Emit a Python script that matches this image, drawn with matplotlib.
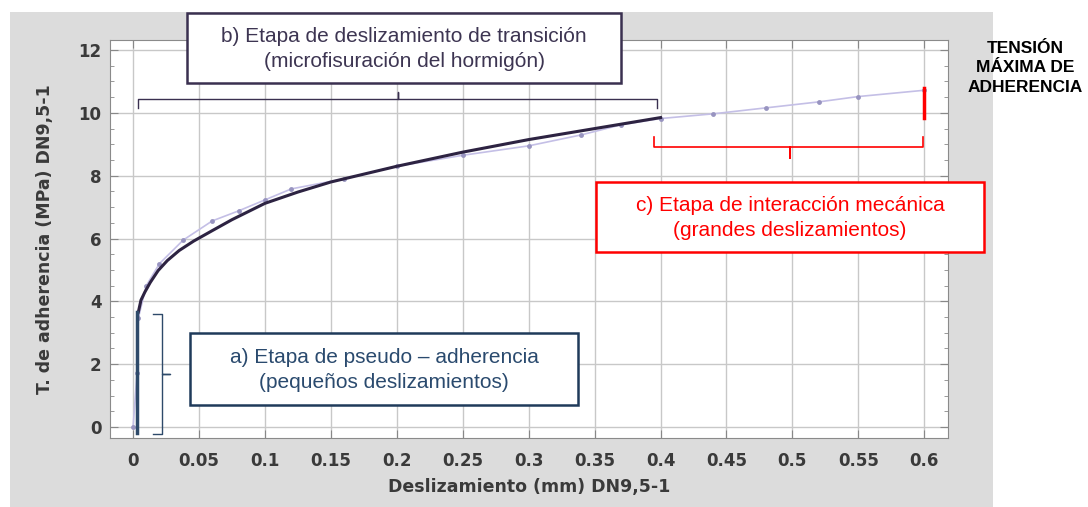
import matplotlib.pyplot as plt
from matplotlib.patches import Rectangle
from matplotlib.ticker import MultipleLocator

plt.rcParams['font.family'] = ['Liberation Sans', 'DejaVu Sans']

# measured points (slip mm, bond stress MPa)
slip_pts = [0.0, 0.003, 0.004, 0.01, 0.02, 0.038, 0.06, 0.08, 0.1, 0.12, 0.16, 0.2,
            0.25, 0.3, 0.34, 0.37, 0.4, 0.44, 0.48, 0.52, 0.55, 0.6]
stress_pts = [0.0, 1.72, 3.47, 4.5, 5.2, 5.95, 6.56, 6.88, 7.23, 7.58, 7.9, 8.3,
              8.65, 8.95, 9.3, 9.62, 9.82, 9.97, 10.16, 10.35, 10.52, 10.72]

# fitted trend for the transition stage
slip_fit = [0.004, 0.006, 0.009, 0.013, 0.019, 0.026, 0.035, 0.046, 0.06, 0.075, 0.1,
            0.125, 0.15, 0.2, 0.25, 0.3, 0.35, 0.4]
stress_fit = [3.66, 4.04, 4.3, 4.6, 4.98, 5.3, 5.62, 5.92, 6.25, 6.6, 7.12,
              7.48, 7.8, 8.3, 8.75, 9.15, 9.5, 9.85]

# pseudo-adherence stage (vertical) and max bond stress marker
slip_a = [0.003, 0.003]
stress_a = [-0.2, 3.66]
slip_max = [0.6, 0.6]
stress_max = [9.84, 10.8]

W, H = 1088, 507
fig = plt.figure(figsize=(W / 100, H / 100), dpi=100)
fig.patch.set_facecolor('white')


def fx(px):
    return px / W


def fy(py):
    return 1 - py / H


# gray panel
fig.add_artist(Rectangle((fx(10), 0), fx(993) - fx(10), fy(12), transform=fig.transFigure,
                         facecolor='#dcdcdc', edgecolor='none', zorder=0))

ax = fig.add_axes([fx(110), fy(438), fx(948) - fx(110), fy(40) - fy(438)])
ax.set_facecolor('white')
ax.set_xlim(-0.0175, 0.618)
ax.set_ylim(-0.35, 12.32)
ax.xaxis.set_major_locator(MultipleLocator(0.05))
ax.yaxis.set_major_locator(MultipleLocator(2))
ax.yaxis.set_minor_locator(MultipleLocator(0.5))
ax.grid(True, which='major', color='#c8c8c8', lw=1)
ax.tick_params(which='both', direction='in', top=True, right=True, color='#888888')
ax.tick_params(which='major', length=6)
ax.tick_params(which='minor', length=3)
ax.tick_params(axis='x', pad=10)
ax.tick_params(axis='y', pad=6)
for s in ax.spines.values():
    s.set_color('#8a8a8a')
ax.set_xticklabels(['0' if abs(v) < 1e-9 else ('%g' % v) for v in ax.get_xticks()])
for lab in ax.get_xticklabels() + ax.get_yticklabels():
    lab.set_family('DejaVu Sans')
    lab.set_fontweight('bold')
    lab.set_fontsize(12)
    lab.set_color('#3a3a3a')

ax.plot(slip_pts, stress_pts, color='#c4bfe6', lw=1.2, marker='o', ms=3.5,
        mfc='#9894c0', mec='none', zorder=2)
ax.plot(slip_fit, stress_fit, color='#2d2342', lw=2.2, zorder=3)
ax.plot(slip_a, stress_a, color='#2e4a6a', lw=2.5, zorder=3)
ax.plot(slip_max, stress_max, color='#ff0000', lw=2.5, zorder=3)

ax.set_xlabel('Deslizamiento (mm) DN9,5-1', fontsize=12.5, fontweight='bold', family='DejaVu Sans',
              color='#3a3a3a', labelpad=6)
ax.set_ylabel('T. de adherencia (MPa) DN9,5-1', fontsize=12.5, fontweight='bold', family='DejaVu Sans',
              color='#3a3a3a', labelpad=18)

# brackets (data coords)
kw = dict(clip_on=False, zorder=4)
ax.plot([0.0038, 0.0038, 0.201, 0.201, 0.201, 0.3976, 0.3976],
        [10.16, 10.45, 10.45, 10.67, 10.45, 10.45, 10.16], color='#3a3050', lw=1, **kw)
ax.plot([0.395, 0.395, 0.4985, 0.4985, 0.4985, 0.599, 0.599],
        [9.24, 8.92, 8.92, 8.57, 8.92, 8.92, 9.24], color='#ff0000', lw=1.2, **kw)
ax.plot([0.015, 0.022, 0.022, 0.028, 0.022, 0.022, 0.015],
        [3.6, 3.6, 1.69, 1.69, 1.69, -0.22, -0.22], color='#2e4a6a', lw=1, **kw)


def box(x0, y0, x1, y1, lines, ec, tc):
    fig.add_artist(Rectangle((fx(x0), fy(y1)), fx(x1) - fx(x0), fy(y0) - fy(y1),
                             transform=fig.transFigure, facecolor='white',
                             edgecolor=ec, lw=1.8, zorder=5))
    fig.text(fx((x0 + x1) / 2), fy((y0 + y1) / 2 + 1), lines, ha='center', va='center',
             fontsize=15, color=tc, linespacing=1.38, zorder=6)


box(187, 13, 621, 83, 'b) Etapa de deslizamiento de transición\n(microfisuración del hormigón)',
    '#3a3050', '#3d3552')
box(190, 333, 578, 405, 'a) Etapa de pseudo – adherencia\n(pequeños deslizamientos)',
    '#1f3a5a', '#2a4a6e')
box(596, 182, 984, 252, 'c) Etapa de interacción mecánica\n(grandes deslizamientos)',
    '#ff0000', '#ff0000')

fig.text(fx(1025), fy(68), 'TENSIÓN\nMÁXIMA DE\nADHERENCIA', ha='center', va='center',
         fontsize=12.5, fontweight='bold', color='black', linespacing=1.35)

fig.savefig('out.png', dpi=100, facecolor='white')
